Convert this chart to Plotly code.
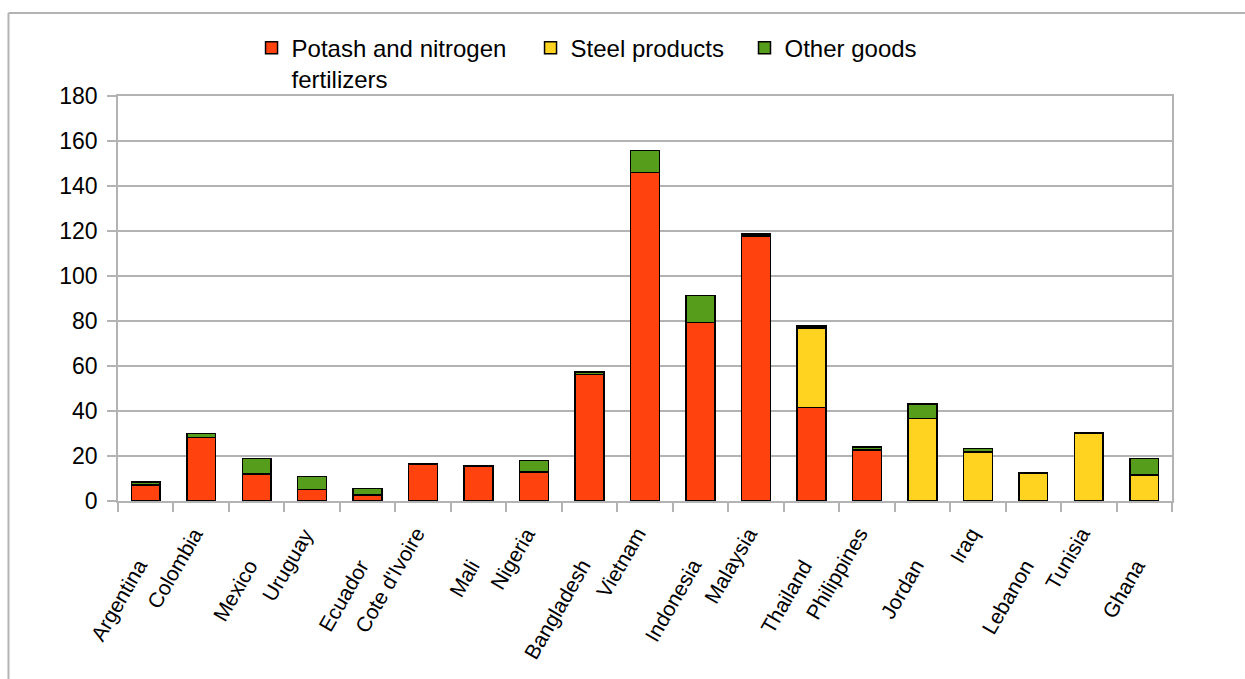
import plotly.graph_objects as go

countries = ["Argentina", "Colombia", "Mexico", "Uruguay", "Ecuador", "Cote d'Ivoire",
             "Mali", "Nigeria", "Bangladesh", "Vietnam", "Indonesia", "Malaysia",
             "Thailand", "Philippines", "Jordan", "Iraq", "Lebanon", "Tunisia", "Ghana"]
fertilizers = [7.2, 28.2, 12.1, 5.2, 2.7, 16.3, 15.5, 12.9, 56.3, 146.0, 79.3, 117.7,
               41.5, 22.7, None, None, None, None, None]
steel = [None, None, None, None, None, None, None, None, None, None, None, None,
         35.4, None, 36.6, 21.8, 12.2, 30.3, 11.6]
other = [1.2, 1.8, 6.7, 5.6, 2.8, 0.4, 0.3, 5.1, 1.0, 9.7, 12.0, 1.0,
         0.9, 1.4, 6.5, 1.6, 0.4, 0.2, 7.2]
y_ticks = [0, 20, 40, 60, 80, 100, 120, 140, 160, 180]

FONT = "Liberation Sans, Arial, sans-serif"
GRID = "#b3b3b3"

fig = go.Figure()
series = [("Potash and nitrogen<br>fertilizers", fertilizers, "#ff420e", "legend"),
          ("Steel products", steel, "#ffd320", "legend2"),
          ("Other goods", other, "#579d1c", "legend3")]
for name, vals, col, lg in series:
    fig.add_trace(go.Bar(x=countries, y=vals, name=name, legend=lg,
                         marker=dict(color=col, line=dict(color="black", width=1.5))))

# staggered rotated category labels
for i, c in enumerate(countries):
    fig.add_annotation(x=c, y=0, xref="x", yref="paper", text=c, showarrow=False,
                       textangle=-60, xanchor="right", yanchor="top",
                       xshift=8, yshift=-52 if i % 2 == 0 else -20,
                       font=dict(family=FONT, size=21, color="black"))

# outer frame
fig.add_shape(type="line", xref="paper", yref="paper", x0=-0.1039, x1=1.07,
              y0=1.2049, y1=1.2049, line=dict(color=GRID, width=2))
fig.add_shape(type="line", xref="paper", yref="paper", x0=-0.1039, x1=-0.1039,
              y0=1.2049, y1=-0.45, line=dict(color=GRID, width=2))

def leg(x):
    return dict(orientation="h", x=x, xanchor="left", y=1.174, yanchor="top",
                valign="top", font=dict(family=FONT, size=24, color="black"),
                bgcolor="rgba(0,0,0,0)")

fig.update_layout(
    width=1245, height=679,
    margin=dict(l=118, r=73, t=96, b=178),
    barmode="stack", bargap=0.48,
    plot_bgcolor="white", paper_bgcolor="white",
    font=dict(family=FONT, size=21, color="black"),
    showlegend=True,
    legend=leg(0.1267), legend2=leg(0.3914), legend3=leg(0.5944),
    xaxis=dict(range=[-0.5, 18.5], showticklabels=False, ticks="outside",
               tickson="boundaries", ticklen=9, tickcolor=GRID, tickwidth=1.5,
               showline=True, linecolor=GRID, linewidth=1.5, mirror=True,
               showgrid=False, zeroline=False),
    yaxis=dict(range=[0, 180], tickvals=y_ticks, ticks="outside", ticklen=9,
               tickcolor=GRID, tickwidth=1.5, showline=True, linecolor=GRID,
               linewidth=1.5, mirror=True, gridcolor=GRID, gridwidth=1.5,
               zeroline=False, ticklabelstandoff=5,
               tickfont=dict(family=FONT, size=23, color="black")),
)

fig.write_html("out.html")
